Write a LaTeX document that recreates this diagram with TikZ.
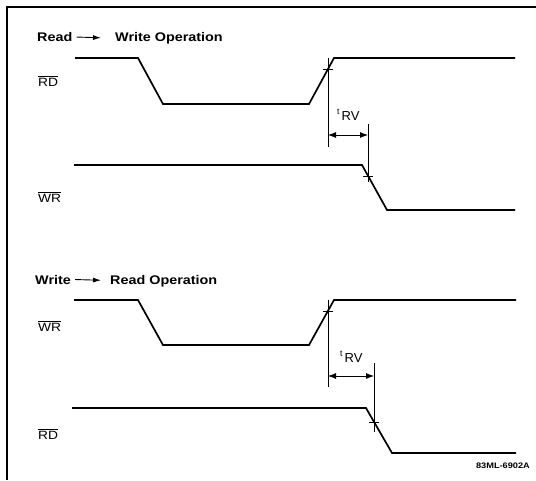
\documentclass[tikz,border=0pt]{standalone}
\usepackage{fontspec}
\setmainfont{Liberation Sans}
\newfontfamily\widefont[FakeStretch=1.15]{Liberation Sans}
\usetikzlibrary{arrows.meta}

\tikzset{
  wave/.style={line width=1.7pt, line join=miter},
  dimline/.style={line width=0.6pt},
  heading/.style={anchor=base west, inner sep=0pt, font=\widefont\fontsize{12.5}{13}\selectfont\bfseries},
  siglabel/.style={anchor=base west, inner sep=0pt, font=\widefont\fontsize{12}{12}\selectfont},
  timelabel/.style={anchor=base west, inner sep=0pt, font=\fontsize{13}{13}\selectfont},
  dimarrow/.style={line width=0.8pt, {Latex[length=8pt,width=6pt]}-{Latex[length=8pt,width=6pt]}},
  headarrow/.style={line width=0.9pt, -{Latex[length=8pt,width=5pt]}}
}

\begin{document}
\begin{tikzpicture}[x=1pt,y=-1pt]

% draw the space
\useasboundingbox (0,0) rectangle (536,480);
\draw[line width=1.4pt] (7,480) -- (7,7) -- (536,7);

% Read -> Write
\node[heading] (rwA) at (37,41.5) {Read};
\node[heading] (rwB) at (115,41.5) {Write Operation};
\draw[headarrow] ([xshift=4pt]rwA.east) -- ([xshift=-14pt,yshift=0.5pt]rwB.west);

\node[siglabel] (rdA) at (38,86) {\(\overline{\mbox{RD}}\)};
\node[siglabel] (wrA) at (38,202) {\(\overline{\mbox{WR}}\)};

% the waves
\draw[wave] (75,58) -- (138,58) -- (163,104) -- (309,104) -- (334,58) -- (515,58);
\draw[wave] (74,165) -- (362,165) -- (387,210) -- (515,210);

% crossing marks and t_RV
\coordinate (xa1) at (328,69);
\coordinate (xa2) at (368,176);
\draw[dimline] ([xshift=-5pt]xa1) -- ([xshift=5pt]xa1);
\draw[dimline] ([xshift=-5pt]xa2) -- ([xshift=5pt]xa2);
\draw[dimline] (328,58) -- (328,147);
\draw[dimline] (368,124) -- (368,182);
\draw[dimarrow] (328,135) -- (368,135);
\node[timelabel] (tA) at (337,120) {\raisebox{6pt}{\fontsize{8.5}{8}\selectfont t}\,RV};

% Write -> Read
\node[heading] (wrB) at (35,284) {Write};
\node[heading] (wrC) at (110,284) {Read Operation};
\draw[headarrow] ([xshift=4pt]wrB.east) -- ([xshift=-9pt,yshift=0.5pt]wrC.west);

\node[siglabel] (wrD) at (38,331) {\(\overline{\mbox{WR}}\)};
\node[siglabel] (rdD) at (38,439) {\(\overline{\mbox{RD}}\)};

% the waves
\draw[wave] (74,300) -- (138,300) -- (163,345) -- (309,345) -- (334,300) -- (516,300);
\draw[wave] (72,408) -- (366,408) -- (392,453) -- (516,453);

% crossing marks and t_RV
\coordinate (xb1) at (328,311);
\coordinate (xb2) at (374,422);
\draw[dimline] ([xshift=-5pt]xb1) -- ([xshift=5pt]xb1);
\draw[dimline] ([xshift=-5pt]xb2) -- ([xshift=5pt]xb2);
\draw[dimline] (328,300) -- (328,387);
\draw[dimline] (374,363) -- (374,432);
\draw[dimarrow] (328,376) -- (374,376);
\node[timelabel] (tB) at (340,362) {\raisebox{6pt}{\fontsize{8.5}{8}\selectfont t}\,RV};

\node[anchor=base east, inner sep=0pt, font=\widefont\fontsize{8}{8}\selectfont\bfseries] (code) at (530,468) {83ML-6902A};

\end{tikzpicture}
\end{document}
